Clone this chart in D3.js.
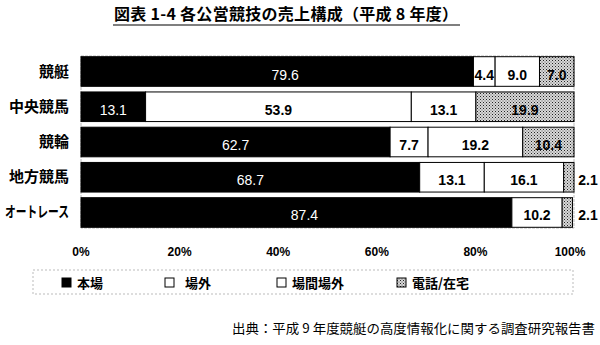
<!DOCTYPE html>
<html>
<head>
<meta charset="utf-8">
<script src="https://cdn.jsdelivr.net/npm/d3@7"></script>
<style>
body { margin: 0; background: #fff; }
text { font-family: "Liberation Sans", Arial, sans-serif; }
.jp { font-family: "Noto Sans CJK JP", sans-serif; }
</style>
</head>
<body>
<div id="chart"></div>
<script>
var categories = ["競艇", "中央競馬", "競輪", "地方競馬", "オートレース"];
var seriesNames = ["本場", "場外", "場間場外", "電話/在宅"];
var honjo = [79.6, 13.1, 62.7, 68.7, 87.4];
var jogai = [4.4, 53.9, 7.7, 13.1, 10.2];
var jokan = [9.0, 13.1, 19.2, 16.1, 0];
var denwa = [7.0, 19.9, 10.4, 2.1, 2.1];
var tickValues = [0, 20, 40, 60, 80, 100];

var width = 600, height = 345;
var margin = { left: 81, right: 26, top: 56, bottom: 117 };

var svg = d3.select("#chart").append("svg")
    .attr("width", width)
    .attr("height", height);

// 網掛けパターン
var pat = svg.append("defs").append("pattern")
    .attr("id", "hatch")
    .attr("width", 3).attr("height", 3)
    .attr("patternUnits", "userSpaceOnUse");
pat.append("rect").attr("width", 3).attr("height", 3).attr("fill", "#d8d8d8");
pat.append("rect").attr("width", 1).attr("height", 1).attr("fill", "#222");
pat.append("rect").attr("x", 1.5).attr("y", 1.5).attr("width", 1).attr("height", 1).attr("fill", "#555");

var fills = ["#000", "#fff", "#fff", "url(#hatch)"];
var textColors = ["#fff", "#000", "#000", "#000"];

var x = d3.scaleLinear().domain([0, 100]).range([margin.left, width - margin.right]);
var y = d3.scaleBand().domain(categories).range([margin.top, height - margin.bottom]).paddingInner(0.16).paddingOuter(0.02);

// 枠
svg.append("rect")
    .attr("x", x(0)).attr("y", margin.top)
    .attr("width", x(100) - x(0)).attr("height", height - margin.bottom - margin.top)
    .attr("fill", "none").attr("stroke", "#bbb").attr("stroke-dasharray", "3,1");

var stack = d3.stack().keys([0, 1, 2, 3]);
var rows = categories.map(function (c, i) {
    return { cat: c, 0: honjo[i], 1: jogai[i], 2: jokan[i], 3: denwa[i] };
});
var layers = stack(rows);

layers.forEach(function (layer, k) {
    var g = svg.append("g");
    g.selectAll("rect")
        .data(layer.filter(function (d) { return d[1] - d[0] > 0; }))
        .enter().append("rect")
        .attr("x", function (d) { return x(d[0]); })
        .attr("y", function (d) { return y(d.data.cat); })
        .attr("width", function (d) { return x(d[1]) - x(d[0]); })
        .attr("height", y.bandwidth())
        .attr("fill", fills[k])
        .attr("stroke", "#000")
        .attr("stroke-width", 1);

    g.selectAll("text")
        .data(layer.filter(function (d) { return d[1] - d[0] > 0; }))
        .enter().append("text")
        .attr("x", function (d) {
            if (d[1] - d[0] < 3) return x(100) + 14;
            return (x(d[0]) + x(d[1])) / 2 + (k == 0 && d[0] == 0 && d[1] > 70 ? 8 : 0);
        })
        .attr("y", function (d) { return y(d.data.cat) + y.bandwidth() / 2 + 8; })
        .attr("text-anchor", "middle")
        .attr("font-size", "14px")
        .attr("font-weight", k == 0 ? "normal" : "bold")
        .attr("fill", function (d) { return d[1] - d[0] < 3 ? "#000" : textColors[k]; })
        .text(function (d) { return (d[1] - d[0]).toFixed(1); });
});

// カテゴリ
svg.append("g").selectAll("text")
    .data(categories)
    .enter().append("text")
    .attr("class", "jp")
    .attr("x", 69)
    .attr("y", function (d) { return y(d) + y.bandwidth() / 2 + 5; })
    .attr("text-anchor", "end")
    .attr("font-size", "15px")
    .attr("font-weight", "bold")
    .attr("textLength", function (d) { return d.length > 4 ? 64 : null; })
    .attr("lengthAdjust", "spacingAndGlyphs")
    .text(function (d) { return d; });

// 目盛
svg.append("g").selectAll("text")
    .data(tickValues)
    .enter().append("text")
    .attr("x", function (d) { return x(d) + (d == 100 ? -4 : 0); })
    .attr("y", 256)
    .attr("text-anchor", "middle")
    .attr("font-size", "12px")
    .attr("font-weight", "bold")
    .text(function (d) { return d + "%"; });

// 凡例
svg.append("rect")
    .attr("x", 33).attr("y", 270).attr("width", 540).attr("height", 24)
    .attr("fill", "none").attr("stroke", "#bbb").attr("stroke-dasharray", "2,2");
var legendX = [62, 165, 277, 397];
var leg = svg.append("g").selectAll("g")
    .data(seriesNames)
    .enter().append("g")
    .attr("transform", function (d, i) { return "translate(" + legendX[i] + ",283)"; });
leg.append("rect")
    .attr("x", 0).attr("y", -5).attr("width", 9).attr("height", 9)
    .attr("fill", function (d, i) { return fills[i]; })
    .attr("stroke", "#000");
leg.append("text")
    .attr("class", "jp")
    .attr("x", function (d, i) { return i == 1 ? 20 : 15; })
    .attr("y", 5)
    .attr("font-size", "13px")
    .attr("font-weight", "bold")
    .text(function (d) { return d; });

// タイトル
svg.append("text")
    .attr("class", "jp")
    .attr("x", 114).attr("y", 20)
    .attr("font-size", "16px")
    .attr("font-weight", "bold")
    .attr("textLength", 344)
    .attr("lengthAdjust", "spacing")
    .text("図表 1-4  各公営競技の売上構成（平成 8 年度）");
svg.append("line")
    .attr("x1", 113).attr("x2", 460).attr("y1", 25).attr("y2", 25)
    .attr("stroke", "#000").attr("stroke-width", 1.2);

// 出典
svg.append("text")
    .attr("class", "jp")
    .attr("x", 232).attr("y", 333)
    .attr("font-size", "13px")
    .attr("textLength", 363)
    .attr("lengthAdjust", "spacingAndGlyphs")
    .text("出典：平成 9 年度競艇の高度情報化に関する調査研究報告書");
</script>
</body>
</html>
